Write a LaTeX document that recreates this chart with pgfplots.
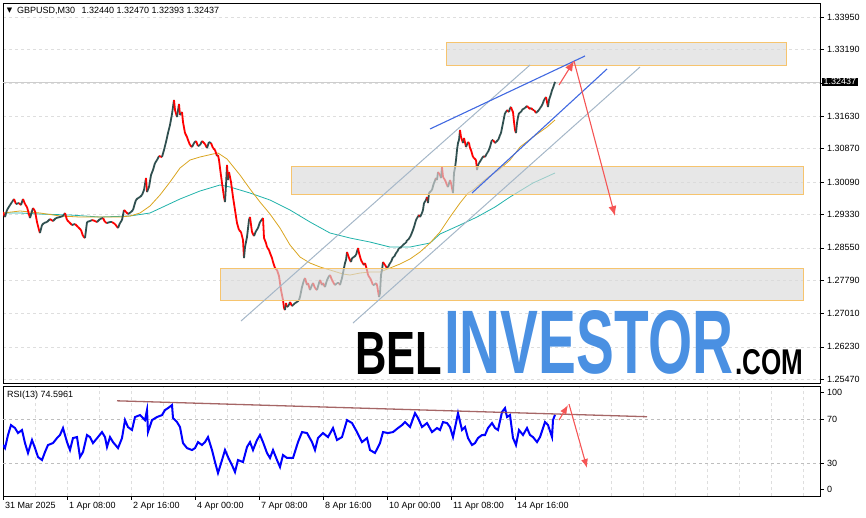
\documentclass[border=0pt]{standalone}
\usepackage{fontspec}
\setmainfont{Liberation Sans}
\newfontfamily\dejavu{DejaVu Sans}
\usepackage{graphicx}
\usepackage{pgfplots}
\pgfplotsset{compat=1.18}
\usepackage{pgfplotstable}
\usetikzlibrary{arrows.meta}
\definecolor{candle}{RGB}{47,79,79}
\definecolor{maorange}{RGB}{218,165,32}
\definecolor{mateal}{RGB}{32,178,170}
\definecolor{chan}{RGB}{165,183,200}
\definecolor{bline}{RGB}{65,105,225}
\definecolor{arr}{RGB}{245,85,85}
\definecolor{rectfill}{RGB}{218,218,218}
\definecolor{rectdraw}{RGB}{246,196,110}
\definecolor{gridc}{RGB}{222,222,222}
\definecolor{rsigrid}{RGB}{190,190,190}
\definecolor{rsiblue}{RGB}{0,0,255}
\definecolor{rsibrown}{RGB}{150,75,75}
\definecolor{wmblue}{RGB}{74,144,226}
\definecolor{bidline}{RGB}{205,205,205}
\newcommand\tf{\fontsize{9}{10.5}\selectfont}
\pgfplotsset{colormap={candlemap}{rgb255=(47,79,79) rgb255=(255,0,0)}}

% bar index (M30 bars from 31 Mar 2025 00:00), price, colour class (1 = falling)
\pgfplotstableread{
idx p c
0 1.293892 1
2 1.292721 0
4 1.294360 0
7 1.295532 0
9 1.296234 0
11 1.296937 1
13 1.295766 0
16 1.296000 1
18 1.295532 0
20 1.296937 1
22 1.295766 1
24 1.295063 1
27 1.292486 0
30 1.294829 1
32 1.294126 1
34 1.291549 1
36 1.289675 1
37 1.288973 0
39 1.290847 0
41 1.291315 0
44 1.291549 0
47 1.292252 1
50 1.291784 0
53 1.292486 0
57 1.292721 0
60 1.292955 0
62 1.293658 1
64 1.292018 1
66 1.291549 1
69 1.290847 0
72 1.291081 1
75 1.290378 1
78 1.289675 1
80 1.288270 1
82 1.287801 0
84 1.291549 0
87 1.291784 0
89 1.292018 1
92 1.291784 1
94 1.291549 0
97 1.292252 0
100 1.292486 1
102 1.291549 1
104 1.291315 0
107 1.291549 0
109 1.291549 1
112 1.291081 1
115 1.290144 0
117 1.291315 0
119 1.292018 0
121 1.294360 1
123 1.293892 1
125 1.293423 0
128 1.293892 0
130 1.294360 0
132 1.296000 0
133 1.296703 0
135 1.297171 0
137 1.297406 0
139 1.297874 0
141 1.299045 0
143 1.301856 1
144 1.298577 0
146 1.299748 0
148 1.302559 0
150 1.303730 0
152 1.305370 0
154 1.306073 0
156 1.307010 1
159 1.306776 0
161 1.308415 0
163 1.310289 0
165 1.312398 0
167 1.314272 0
169 1.316848 0
171 1.320128 1
172 1.317785 1
174 1.316146 0
176 1.319191 1
177 1.316614 0
179 1.317317 1
180 1.314974 1
182 1.312398 1
184 1.311461 1
185 1.310758 1
187 1.309587 1
189 1.309118 0
191 1.310055 0
193 1.310524 1
195 1.309352 0
197 1.309587 0
199 1.310524 1
202 1.309821 1
204 1.308884 0
206 1.310289 0
208 1.310055 1
210 1.308884 1
212 1.308415 1
214 1.307010 0
215 1.307244 1
216 1.306073 1
217 1.304199 1
219 1.300685 1
221 1.297406 1
222 1.296234 0
223 1.300217 0
224 1.304902 1
225 1.301388 0
226 1.303262 1
228 1.300919 1
230 1.297406 1
232 1.294360 1
234 1.291315 1
236 1.289675 1
238 1.289207 1
240 1.287333 1
241 1.283116 0
242 1.285693 0
244 1.288036 0
246 1.292018 0
247 1.292721 1
249 1.289207 1
251 1.288270 0
253 1.289441 0
255 1.290144 0
257 1.291549 0
260 1.292486 1
261 1.287801 1
263 1.286630 1
264 1.285693 1
266 1.284990 1
267 1.284288 1
269 1.283116 1
270 1.282179 1
272 1.280774 1
274 1.280305 1
276 1.278900 1
277 1.277260 1
278 1.275620 1
280 1.273278 1
281 1.271404 1
282 1.270935 0
283 1.272575 1
284 1.271638 0
286 1.272107 0
287 1.272809 1
289 1.271872 0
290 1.272107 0
292 1.272575 0
294 1.272809 0
296 1.273278 0
297 1.273981 0
299 1.276323 0
301 1.277963 0
302 1.278431 1
304 1.276792 0
305 1.277260 1
307 1.275620 0
309 1.276792 0
310 1.277260 1
312 1.276089 1
314 1.275620 0
316 1.277260 0
317 1.277963 1
319 1.276792 0
320 1.277260 1
322 1.276323 0
324 1.277963 0
326 1.278900 0
327 1.279134 1
329 1.277963 1
330 1.277494 1
332 1.276792 0
334 1.277260 0
336 1.277260 1
337 1.276792 0
339 1.278431 0
340 1.279603 0
342 1.281945 0
343 1.282648 0
344 1.284522 1
346 1.283116 1
348 1.282179 0
349 1.283116 0
351 1.283351 0
353 1.283819 0
355 1.285459 1
356 1.284288 1
358 1.282648 1
359 1.282179 1
361 1.281477 0
362 1.281945 1
364 1.280305 1
365 1.279134 1
367 1.278431 1
368 1.277963 1
370 1.276792 0
371 1.276792 0
373 1.277260 1
374 1.276792 1
376 1.273981 0
377 1.274918 0
378 1.279134 0
379 1.280305 0
380 1.282179 1
382 1.281477 1
384 1.280774 0
385 1.281008 0
387 1.281945 0
388 1.282179 0
390 1.283351 0
391 1.283351 0
393 1.284288 0
394 1.284522 0
396 1.285459 0
397 1.285459 0
399 1.285927 0
400 1.286162 0
402 1.286630 0
403 1.286630 0
404 1.287333 0
405 1.287333 0
407 1.288036 0
408 1.288504 0
410 1.289675 0
411 1.290378 0
413 1.292018 0
414 1.292486 0
416 1.293189 1
417 1.292721 0
419 1.293658 0
420 1.294360 0
421 1.296000 0
423 1.296703 0
424 1.297406 1
425 1.296000 0
426 1.298343 0
428 1.298811 0
429 1.299045 0
430 1.299982 0
431 1.300685 0
433 1.301856 1
434 1.301388 0
435 1.303262 1
437 1.302559 1
438 1.301856 0
439 1.304433 1
440 1.302091 1
442 1.301388 1
444 1.300217 1
445 1.299748 0
447 1.301388 1
448 1.300685 1
450 1.298343 0
451 1.303028 0
452 1.304199 0
453 1.306073 0
454 1.308415 0
455 1.310055 0
456 1.310758 0
457 1.313100 1
458 1.311461 1
460 1.310055 0
461 1.311226 1
463 1.309118 0
465 1.310289 1
466 1.310055 1
467 1.308884 1
468 1.308415 1
470 1.306776 1
471 1.306541 1
473 1.306073 1
474 1.303730 0
475 1.304902 0
476 1.305370 0
478 1.306073 0
479 1.306541 0
481 1.307010 1
482 1.306776 0
484 1.307713 0
485 1.307947 0
487 1.309118 0
488 1.310055 0
489 1.310758 0
490 1.310758 1
492 1.310055 0
493 1.310289 0
495 1.310758 0
496 1.311226 0
497 1.311929 0
498 1.312398 0
499 1.313569 0
500 1.314740 0
501 1.315911 0
502 1.317083 0
503 1.317317 0
504 1.317785 1
506 1.317317 0
507 1.318254 0
508 1.318488 1
509 1.317785 1
510 1.317317 1
511 1.314974 1
512 1.313100 1
513 1.312398 0
514 1.314740 0
515 1.316146 0
516 1.317083 0
518 1.317317 0
519 1.317785 0
520 1.318020 0
522 1.318254 0
524 1.318723 1
525 1.318488 1
527 1.318020 0
528 1.318254 1
530 1.317785 0
531 1.317785 1
533 1.317083 0
534 1.317317 0
536 1.317785 0
537 1.318254 0
538 1.318488 0
540 1.319425 0
541 1.320128 0
543 1.320831 1
544 1.319659 1
545 1.318488 0
546 1.320128 0
547 1.320831 0
548 1.321533 0
549 1.322470 0
550 1.322939 0
551 1.323642 0
552 1.324370 0
}\pricetab

\pgfplotstableread{
idx v
0 46.8
2 44.0
5 56.0
8 65.1
12 62.4
15 57.8
19 60.6
22 48.6
25 39.5
29 51.4
32 44.0
35 35.8
39 33.0
42 40.4
45 46.8
50 48.6
54 53.2
57 56.0
60 62.4
64 49.5
67 42.2
70 53.2
74 54.1
77 35.8
80 40.4
84 56.0
87 54.1
90 48.6
95 54.1
99 58.7
102 54.1
104 45.0
107 54.1
110 49.5
115 44.0
119 53.2
122 69.7
125 63.3
129 60.6
132 72.5
137 74.3
142 69.7
144 78.9
145 58.7
149 69.7
154 72.5
159 74.3
162 78.9
165 80.7
169 83.5
170 71.6
174 67.9
177 63.3
180 48.6
184 44.0
189 42.2
192 44.0
195 49.5
199 46.8
202 49.5
205 54.1
209 42.2
212 31.2
215 21.1
219 33.0
222 42.2
225 35.8
229 28.4
232 22.0
235 33.0
240 31.2
244 45.0
247 49.5
250 42.2
254 51.4
257 56.0
260 49.5
264 39.5
267 34.9
270 42.2
274 33.0
277 26.6
280 37.6
284 34.9
290 34.9
295 49.5
299 58.7
304 57.8
309 49.5
312 42.2
315 53.2
320 57.8
325 54.1
330 62.4
334 51.4
339 54.1
344 69.7
349 67.0
354 58.7
359 49.5
364 53.2
367 42.2
372 39.5
377 48.6
380 58.7
385 57.8
390 58.7
395 62.4
399 65.1
402 67.9
407 63.3
412 76.1
415 71.6
419 63.3
424 67.0
429 58.7
434 62.4
437 60.6
440 67.9
444 67.0
447 63.3
450 54.1
454 71.6
455 76.1
459 60.6
462 63.3
465 53.2
469 46.8
472 48.6
475 53.2
479 56.0
482 56.0
485 62.4
489 67.0
492 62.4
495 60.6
499 77.1
502 80.7
504 72.5
507 74.3
510 53.2
513 46.8
516 60.6
520 56.0
524 62.4
527 56.0
530 54.1
534 49.5
537 54.1
542 67.9
545 65.2
549 54.1
550 69.7
552 74.6
}\rsitab

\pgfplotsset{mtbase/.style={
  scale only axis, width=817pt, xmin=0, xmax=817,
  axis line style={black, line width=0.9pt},
  tick label style={font=\tf},
  /pgf/number format/assume math mode=true,
  tick align=outside,
  major tick length=3.5pt,
  minor tick length=0pt,
  tick style={black, line width=0.6pt},
  minor xtick={32,64,...,800},
  xminorgrids,
  minor grid style={gridc, dash pattern=on 3pt off 3pt, line width=0.6pt},
  major grid style={gridc, dash pattern=on 3pt off 3pt, line width=0.6pt},
  ytick pos=right, yticklabel pos=right,
  clip mode=individual,
}}

\begin{document}
\begin{tikzpicture}
\useasboundingbox (0pt,0pt) rectangle (866pt,517pt);

% ---------------- main price panel ----------------
\begin{axis}[mtbase,
  at={(3pt,134pt)}, anchor=south west, height=380pt,
  ymin=1.25384, ymax=1.34285,
  xtick=\empty,
  ytick={1.2547,1.2623,1.2701,1.2779,1.2855,1.2933,1.3009,1.3087,1.3163,1.3241,1.3319,1.3395},
  yticklabels={1.25470,1.26230,1.27010,1.27790,1.28550,1.29330,1.30090,1.30870,1.31630,{},1.33190,1.33950},
  ymajorgrids,
  scaled y ticks=false,
  point meta min=0, point meta max=1,
  colormap name=candlemap,
]
\addplot[bidline, line width=0.7pt] coordinates {(0,1.32437) (817,1.32437)};
% moving averages
\addplot[mateal, line width=0.8pt] coordinates {
(0,1.29366) (17,1.29366) (37,1.29342) (67,1.29319) (97,1.29272) (127,1.29296) (147,1.29366)
(162,1.29530) (177,1.29694) (197,1.29881) (217,1.30022) (227,1.29975) (247,1.29834) (267,1.29670)
(287,1.29436) (307,1.29155) (327,1.28897) (347,1.28780) (367,1.28686) (387,1.28569) (407,1.28569)
(427,1.28663) (437,1.28874) (457,1.29085) (474,1.29272) (492,1.29506) (507,1.29741) (530,1.30069) (552,1.30303)};
\addplot[maorange, line width=0.8pt] coordinates {
(0,1.29366) (17,1.29413) (37,1.29366) (57,1.29296) (77,1.29272) (97,1.29272) (117,1.29272)
(127,1.29296) (137,1.29366) (147,1.29530) (157,1.29787) (167,1.30092) (177,1.30420) (187,1.30607)
(197,1.30678) (210,1.30748) (215,1.30771) (224,1.30631) (237,1.30256) (247,1.29928) (257,1.29623)
(267,1.29342) (277,1.29014) (287,1.28616) (297,1.28335) (307,1.28194) (317,1.28101) (327,1.28031)
(340,1.27937) (347,1.27913) (357,1.27960) (367,1.27984) (377,1.27984) (387,1.28077) (397,1.28171)
(407,1.28288) (417,1.28452) (427,1.28663) (437,1.28921) (447,1.29272) (457,1.29600) (465,1.29834)
(470,1.29905) (484,1.30186) (497,1.30397) (507,1.30607) (517,1.30912) (530,1.31146) (544,1.31380) (552,1.31544)};
% price
\addplot[mesh, shader=flat corner, point meta=explicit, line width=1.8pt] table[x=idx, y=p, meta=c] \pricetab;
% zones
\addplot[draw=rectdraw, fill=rectfill, fill opacity=0.65, line width=0.9pt] coordinates {(443,1.33371) (783,1.33371) (783,1.32833) (443,1.32833)} -- cycle;
\addplot[draw=rectdraw, fill=rectfill, fill opacity=0.65, line width=0.9pt] coordinates {(288,1.30455) (800,1.30455) (800,1.29811) (288,1.29811)} -- cycle;
\addplot[draw=rectdraw, fill=rectfill, fill opacity=0.65, line width=0.9pt] coordinates {(217,1.28077) (800,1.28077) (800,1.27328) (217,1.27328)} -- cycle;
% channel lines
\addplot[chan, line width=1pt] coordinates {(238,1.26836) (527,1.32833)};
\addplot[chan, line width=1pt] coordinates {(350,1.26789) (637,1.32786)};
\addplot[bline, line width=1.1pt] coordinates {(427,1.31334) (582,1.33044)};
\addplot[bline, line width=1.1pt] coordinates {(469,1.29834) (604,1.32739)};
% arrows
\addplot[arr, line width=1.1pt, -{Latex[length=10pt,width=8pt]}] coordinates {(556,1.32364) (571,1.32926)};
\addplot[arr, line width=1.1pt, -{Latex[length=10pt,width=8pt]}] coordinates {(571,1.32926) (612,1.29296)};
\node[fill=black, text=white, anchor=west, inner xsep=2pt, inner ysep=1.2pt, font=\tf, xshift=1.5pt] at (axis cs:817,1.32437) {1.32437};
\end{axis}

% ---------------- RSI panel ----------------
\begin{axis}[mtbase,
  at={(3pt,21pt)}, anchor=south west, height=110pt,
  ymin=0, ymax=101,
  xtick={0,64,...,512},
  xticklabels={31 Mar 2025, 1 Apr 08:00, 2 Apr 16:00, 4 Apr 00:00, 7 Apr 08:00, 8 Apr 16:00, 10 Apr 00:00, 11 Apr 08:00, 14 Apr 16:00},
  xtick pos=bottom,
  xticklabel style={anchor=north west, xshift=-1.5pt, yshift=1pt},
  ytick={6.1,30,70,94.8},
  yticklabels={0,30,70,100},
]
\addplot[rsigrid, line width=0.7pt, dash pattern=on 3pt off 3pt] coordinates {(0,70) (817,70)};
\addplot[rsigrid, line width=0.7pt, dash pattern=on 3pt off 3pt] coordinates {(0,30) (817,30)};
\addplot[rsiblue, line width=2pt] table[x=idx, y=v] \rsitab;
\addplot[rsibrown, line width=1.3pt, opacity=0.85] coordinates {(114,87.4) (644,72.8)};
\addplot[arr, line width=1.1pt, -{Latex[length=9pt,width=7pt]}] coordinates {(556,69.7) (565,83.5)};
\addplot[arr, line width=1.1pt, -{Latex[length=9pt,width=7pt]}] coordinates {(566,84.4) (584,25.7)};
\end{axis}

% ---------------- texts ----------------
\node[font=\dejavu\fontsize{7}{8}\selectfont, inner sep=0] at (9.5pt,506.5pt) {▼};
\node[anchor=west, font=\tf, inner sep=0] at (17pt,506.5pt) {GBPUSD,M30\hspace{0.7em}1.32440 1.32470 1.32393 1.32437};
\node[anchor=west, font=\tf, inner sep=0] at (7pt,122pt) {RSI(13) 74.5961};

\node[anchor=south west, inner sep=0] at (355pt,142pt) {\resizebox{87pt}{42pt}{\bfseries BEL}};
\node[anchor=south west, inner sep=0, text=wmblue] at (444pt,142pt) {\resizebox{289pt}{63pt}{\bfseries INVESTOR}};
\node[anchor=south west, inner sep=0] at (735pt,142pt) {\resizebox{68pt}{25pt}{\bfseries .COM}};
\end{tikzpicture}
\end{document}
